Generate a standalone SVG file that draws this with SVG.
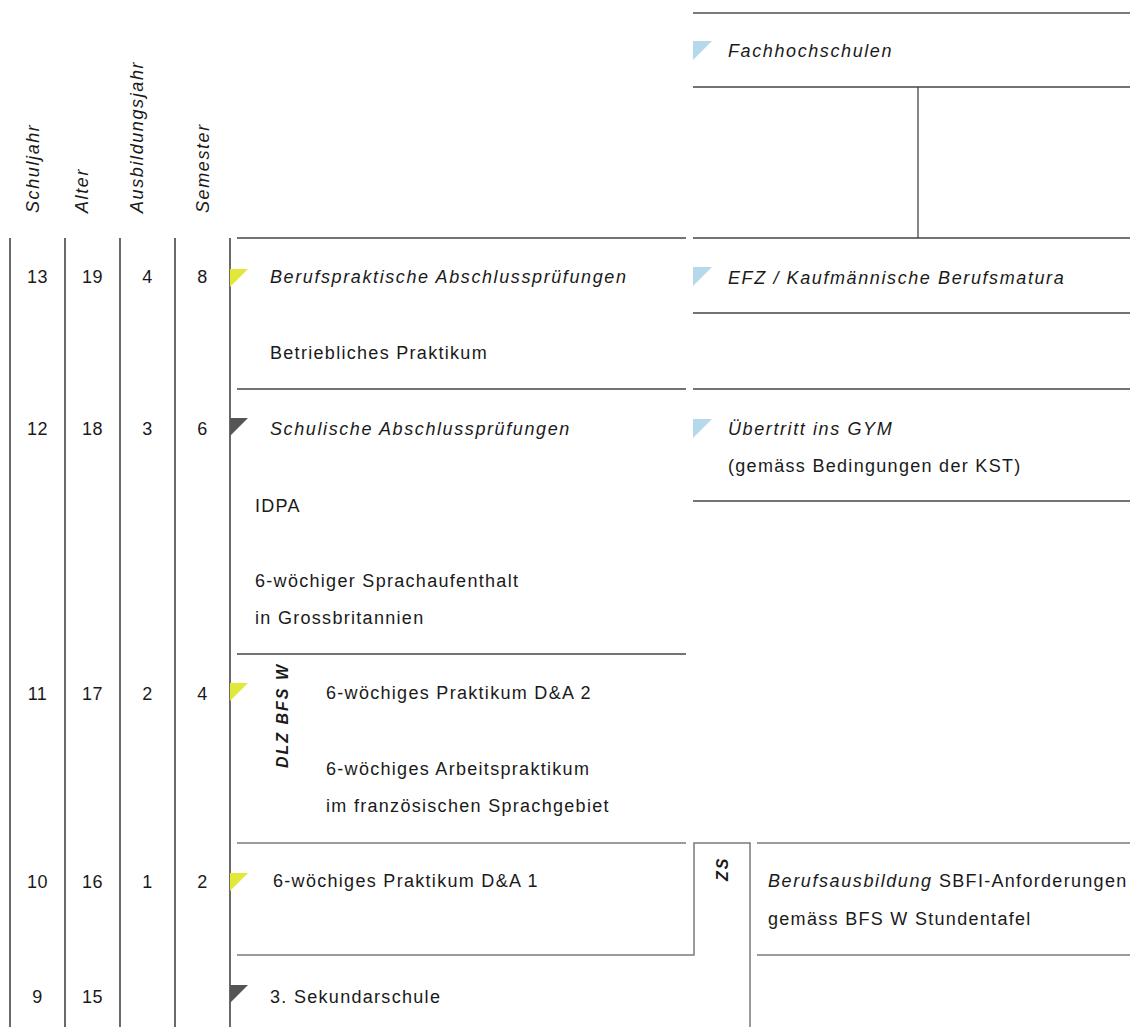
<svg xmlns="http://www.w3.org/2000/svg" width="1130" height="1027" viewBox="0 0 1130 1027">
<style>
text{font-family:"Liberation Sans",Arial,sans-serif;font-size:18px;fill:#1a1a1a;letter-spacing:1.3px}
.i{font-style:italic;letter-spacing:1.6px}
.n{text-anchor:middle;letter-spacing:0.5px}
.v{stroke:#1a1a1a;stroke-width:1.3;fill:none}
.h{stroke:#444;stroke-width:1.3;fill:none}
.g{stroke:#7a7a7a;stroke-width:1.5;fill:none}
.rot{font-weight:bold;font-style:italic;font-size:16px;letter-spacing:2px}
.ty{fill:#e2e83a}
.tg{fill:#555}
.tb{fill:#b5d8ea}
</style>
<g id="header">
<text class="i" transform="translate(39,213) rotate(-90)">Schuljahr</text>
<text class="i" transform="translate(88,213) rotate(-90)">Alter</text>
<text class="i" transform="translate(143,213) rotate(-90)">Ausbildungsjahr</text>
<text class="i" transform="translate(209,213) rotate(-90)">Semester</text>
</g>
<g id="connectors">
<line class="v" x1="10" y1="238" x2="10" y2="1027"/>
<line class="v" x1="65" y1="238" x2="65" y2="1027"/>
<line class="v" x1="120" y1="238" x2="120" y2="1027"/>
<line class="v" x1="175" y1="238" x2="175" y2="1027"/>
<line class="v" x1="230" y1="238" x2="230" y2="1027"/>
<line class="h" x1="237" y1="238" x2="686" y2="238"/>
<line class="h" x1="237" y1="389" x2="686" y2="389"/>
<line class="h" x1="237" y1="654" x2="686" y2="654"/>
<line class="g" x1="237" y1="843" x2="686" y2="843"/>
<path class="g" d="M237,955 H694 V843 H750 V1027"/>
<line class="g" x1="757" y1="843" x2="1130" y2="843"/>
<line class="g" x1="757" y1="955" x2="1130" y2="955"/>
<line class="g" x1="693" y1="13" x2="1130" y2="13" style="stroke-width:2"/>
<line class="h" x1="693" y1="87" x2="1130" y2="87"/>
<line class="h" x1="918" y1="87" x2="918" y2="238"/>
<line class="h" x1="693" y1="238" x2="1130" y2="238"/>
<line class="h" x1="693" y1="313" x2="1130" y2="313"/>
<line class="h" x1="693" y1="389" x2="1130" y2="389"/>
<line class="h" x1="693" y1="501" x2="1130" y2="501"/>
</g>
<g id="row13">
<text class="n" x="37.5" y="283">13</text>
<text class="n" x="92.5" y="283">19</text>
<text class="n" x="147.5" y="283">4</text>
<text class="n" x="202.5" y="283">8</text>
<polygon class="ty" points="230,269 248,269 230,287"/>
<text class="i" x="270" y="283">Berufspraktische Abschlussprüfungen</text>
<text x="270" y="359">Betriebliches Praktikum</text>
</g>
<g id="row12">
<text class="n" x="37.5" y="435">12</text>
<text class="n" x="92.5" y="435">18</text>
<text class="n" x="147.5" y="435">3</text>
<text class="n" x="202.5" y="435">6</text>
<polygon class="tg" points="230,418 248,418 230,436"/>
<text class="i" x="270" y="435">Schulische Abschlussprüfungen</text>
<text x="255" y="512">IDPA</text>
<text x="255" y="587">6-wöchiger Sprachaufenthalt</text>
<text x="255" y="624">in Grossbritannien</text>
</g>
<g id="row11">
<text class="n" x="37.5" y="700">11</text>
<text class="n" x="92.5" y="700">17</text>
<text class="n" x="147.5" y="700">2</text>
<text class="n" x="202.5" y="700">4</text>
<polygon class="ty" points="230,683 248,683 230,701"/>
<text class="rot" transform="translate(288,768) rotate(-90)">DLZ BFS W</text>
<text x="326" y="699">6-wöchiges Praktikum D&amp;A 2</text>
<text x="326" y="775">6-wöchiges Arbeitspraktikum</text>
<text x="326" y="812">im französischen Sprachgebiet</text>
</g>
<g id="row10">
<text class="n" x="37.5" y="888">10</text>
<text class="n" x="92.5" y="888">16</text>
<text class="n" x="147.5" y="888">1</text>
<text class="n" x="202.5" y="888">2</text>
<polygon class="ty" points="230,873 248,873 230,891"/>
<text x="273" y="887">6-wöchiges Praktikum D&amp;A 1</text>
</g>
<g id="row9">
<text class="n" x="37.5" y="1003">9</text>
<text class="n" x="92.5" y="1003">15</text>
<polygon class="tg" points="230,985 248,985 230,1003"/>
<text x="270" y="1003">3. Sekundarschule</text>
</g>
<g id="zs">
<text class="rot" transform="translate(728,881) rotate(-90)">ZS</text>
</g>
<g id="fachhochschulen">
<polygon class="tb" points="693,41 712,41 693,60"/>
<text class="i" x="728" y="57">Fachhochschulen</text>
</g>
<g id="efz">
<polygon class="tb" points="693,267 712,267 693,286"/>
<text class="i" x="728" y="284">EFZ / Kaufmännische Berufsmatura</text>
</g>
<g id="gym">
<polygon class="tb" points="693,419 712,419 693,438"/>
<text class="i" x="728" y="435">Übertritt ins GYM</text>
<text x="728" y="472">(gemäss Bedingungen der KST)</text>
</g>
<g id="berufsausbildung">
<text x="768" y="887"><tspan class="i">Berufsausbildung</tspan> SBFI-Anforderungen</text>
<text x="768" y="925">gemäss BFS W Stundentafel</text>
</g>
</svg>
